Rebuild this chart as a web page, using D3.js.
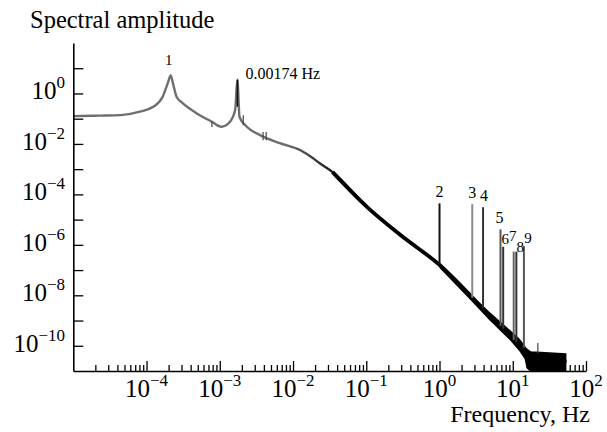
<!DOCTYPE html>
<html>
<head>
<meta charset="utf-8">
<script src="https://cdn.jsdelivr.net/npm/d3@7"></script>
<style>
    body { margin: 0; background: #fff; }
    svg { display: block; font-family: "Liberation Serif", "DejaVu Serif", serif; }
</style>
</head>
<body>
<svg id="chart" width="607" height="432"></svg>
<script>
// continuum of the spectrum
const specFreq = [1.0e-5, 2.3e-5, 4.4e-5, 8.1e-5, 1.23e-4, 1.66e-4, 1.95e-4, 2.14e-4, 2.29e-4, 2.57e-4, 3.09e-4,
    4.8e-4, 7.8e-4, 1.05e-3, 1.38e-3, 1.62e-3, 1.74e-3, 1.86e-3, 2.34e-3, 3.55e-3, 6.6e-3, 1.26e-2, 1.86e-2,
    2.29e-2, 3.47e-2, 0.102, 0.29, 1.0, 3.7, 7.2, 13.8, 18.6, 27, 54];
const specAmp = [0.126, 0.132, 0.138, 0.19, 0.295, 0.74, 2.57, 5.2, 2.57, 0.74, 0.42,
    0.166, 0.076, 0.048, 0.076, 0.22, 3.5, 0.117, 0.048, 0.0224, 0.0107, 5.6e-3, 2.75e-3,
    1.74e-3, 7.6e-4, 3.2e-5, 2.5e-6, 1.6e-7, 3.5e-9, 4.3e-10, 8.3e-11, 4.4e-11, 2.75e-11, 2.4e-11];

// noise band around the high-frequency end
const bandFreq = [1.0, 2.58, 4.84, 9.1, 12.4, 14.5, 15.4, 17, 21, 54];
const bandHigh = [2.0e-7, 1.2e-8, 2.2e-9, 4.3e-10, 1.9e-10, 1.07e-10, 8e-11, 5.9e-11, 5.9e-11, 5e-11];
const bandLow = [1.2e-7, 6.9e-9, 1.0e-9, 1.7e-10, 5.9e-11, 3e-11, 1.3e-11, 1e-11, 1e-11, 1e-11];

// numbered lines
const spikeLabel = ["2", "3", "4", "5", "6", "7", "8", "9"];
const spikeFreq = [1.0, 2.8, 3.93, 6.8, 7.4, 10.3, 11.2, 14.2];
const spikeTop = [4.4e-5, 4.1e-5, 3.1e-5, 4.1e-6, 8.4e-7, 5.4e-7, 5.4e-7, 9e-7];
const spikeBase = [1.6e-7, 8e-9, 3.2e-9, 6e-10, 4.7e-10, 1.7e-10, 1.4e-10, 8.3e-11];

// small marks on the curve
const markFreq = [7.8e-4, 2.09e-3, 3.9e-3, 4.3e-3, 22];
const markHigh = [0.08, 0.138, 0.0295, 0.0295, 1.3e-10];
const markLow = [0.047, 0.055, 0.0141, 0.0141, 5e-11];

// first two peaks
const peakFreq = [2.14e-4, 1.74e-3];
const peakAmp = [5.2, 3.5];
const peakText = ["1", "0.00174 Hz"];

const xMajor = [-4, -3, -2, -1, 0, 1, 2];
const yMajor = [-10, -9, -8, -7, -6, -5, -4, -3, -2, -1, 0, 1];
const yLabelled = [0, -2, -4, -6, -8, -10];

const spikeShade = ["#111", "#8a8a8a", "#333", "#555", "#333", "#666", "#333", "#555"];
const labelNudge = [[0, -6], [0, -6], [1, -6], [-1, -6], [2, -3], [-1, -11], [4, 0], [4, -3]];

const svg = d3.select("#chart");

const x = d3.scaleLog().domain([1e-5, 1e2]).range([73.3, 586]);
const y = d3.scaleLog().domain([1e-11, 1e2]).range([371, 43]);

const spectrum = specFreq.map((f, i) => ({ f: f, a: specAmp[i] }));
const band = bandFreq.map((f, i) => ({ f: f, hi: bandHigh[i], lo: bandLow[i] }));

// stroke goes from grey to black around 0.01-0.04 Hz
const grad = svg.append("defs").append("linearGradient")
    .attr("id", "fade")
    .attr("gradientUnits", "userSpaceOnUse")
    .attr("x1", x(0.008)).attr("x2", x(0.045))
    .attr("y1", 0).attr("y2", 0);
grad.append("stop").attr("offset", 0).attr("stop-color", "#6e6e6e");
grad.append("stop").attr("offset", 1).attr("stop-color", "#0a0a0a");

const line = d3.line()
    .x((d) => x(d.f))
    .y((d) => y(d.a))
    .curve(d3.curveMonotoneX);

svg.append("path")
    .datum(spectrum)
    .attr("d", line)
    .attr("fill", "none")
    .attr("stroke", "url(#fade)")
    .attr("stroke-width", 2.4)
    .attr("stroke-linejoin", "round");

// thicker black part past 0.03 Hz
svg.append("path")
    .datum(spectrum.filter((d) => d.f >= 0.03))
    .attr("d", line)
    .attr("fill", "none")
    .attr("stroke", "#000")
    .attr("stroke-width", 3.8)
    .attr("stroke-linejoin", "round");

svg.append("path")
    .datum(band)
    .attr("d", d3.area()
        .x((d) => x(d.f))
        .y0((d) => y(d.lo))
        .y1((d) => y(d.hi)))
    .attr("fill", "#000");

// dark tip of the 0.00174 Hz peak
svg.append("line")
    .attr("x1", x(peakFreq[1])).attr("x2", x(peakFreq[1]))
    .attr("y1", y(0.3)).attr("y2", y(peakAmp[1]))
    .attr("stroke", "#111")
    .attr("stroke-width", 1.6);

svg.append("g")
    .selectAll("line")
    .data(markFreq)
    .join("line")
    .attr("x1", (d) => x(d)).attr("x2", (d) => x(d))
    .attr("y1", (d, i) => y(markLow[i]))
    .attr("y2", (d, i) => y(markHigh[i]))
    .attr("stroke", "#444")
    .attr("stroke-width", 1.2);

svg.append("g")
    .selectAll("line")
    .data(spikeFreq)
    .join("line")
    .attr("x1", (d) => x(d)).attr("x2", (d) => x(d))
    .attr("y1", (d, i) => y(spikeBase[i]))
    .attr("y2", (d, i) => y(spikeTop[i]))
    .attr("stroke", (d, i) => spikeShade[i])
    .attr("stroke-width", 2);

svg.append("g")
    .selectAll("text")
    .data(spikeLabel)
    .join("text")
    .attr("x", (d, i) => x(spikeFreq[i]) + labelNudge[i][0])
    .attr("y", (d, i) => y(spikeTop[i]) + labelNudge[i][1])
    .attr("text-anchor", "middle")
    .attr("font-size", (d, i) => (i > 3 ? 15 : 16))
    .text((d) => d);

svg.append("text")
    .attr("x", x(peakFreq[0]) - 2)
    .attr("y", y(peakAmp[0]) - 10)
    .attr("text-anchor", "middle")
    .attr("font-size", 15)
    .text(peakText[0]);

svg.append("text")
    .attr("x", x(peakFreq[1]) + 8)
    .attr("y", y(peakAmp[1]) - 1)
    .attr("font-size", 16)
    .text(peakText[1]);

// axes, ticks point inwards
const minorX = [];
d3.range(-5, 2).forEach((k) => {
    d3.range(2, 10).forEach((m) => minorX.push(m * Math.pow(10, k)));
});

svg.append("g")
    .attr("transform", "translate(0,371)")
    .call(d3.axisBottom(x).tickValues(minorX).tickSize(-6).tickSizeOuter(0).tickFormat(""))
    .call((g) => g.select(".domain").remove());

svg.append("g")
    .attr("transform", "translate(0,371)")
    .call(d3.axisBottom(x).tickValues(xMajor.map((k) => Math.pow(10, k))).tickSize(-10).tickSizeOuter(0).tickFormat(""));

svg.append("g")
    .attr("transform", "translate(73.3,0)")
    .call(d3.axisLeft(y).tickValues(yMajor.map((k) => Math.pow(10, k))).tickSize(-10).tickSizeOuter(0).tickFormat(""));

svg.selectAll(".domain").attr("stroke-width", 1.6);
svg.selectAll(".tick line").attr("stroke-width", 1.3);

const power = (sel, k) => {
    sel.append("tspan").text("10");
    sel.append("tspan")
        .attr("font-size", 17)
        .attr("dy", -11)
        .text(k < 0 ? "\u2212" + Math.abs(k) : k);
};

svg.append("g")
    .selectAll("text")
    .data(xMajor)
    .join("text")
    .attr("x", (k) => x(Math.pow(10, k)))
    .attr("y", 397)
    .attr("text-anchor", "middle")
    .attr("font-size", 25)
    .each(function (k) { power(d3.select(this), k); });

svg.append("g")
    .selectAll("text")
    .data(yLabelled)
    .join("text")
    .attr("x", 65)
    .attr("y", (k) => y(Math.pow(10, k)) + 6)
    .attr("text-anchor", "end")
    .attr("font-size", 25)
    .each(function (k) { power(d3.select(this), k); });

svg.append("text")
    .attr("x", 30)
    .attr("y", 28)
    .attr("font-size", 24.5)
    .text("Spectral amplitude");

svg.append("text")
    .attr("x", 590)
    .attr("y", 422)
    .attr("text-anchor", "end")
    .attr("font-size", 24)
    .text("Frequency, Hz");
</script>
</body>
</html>
